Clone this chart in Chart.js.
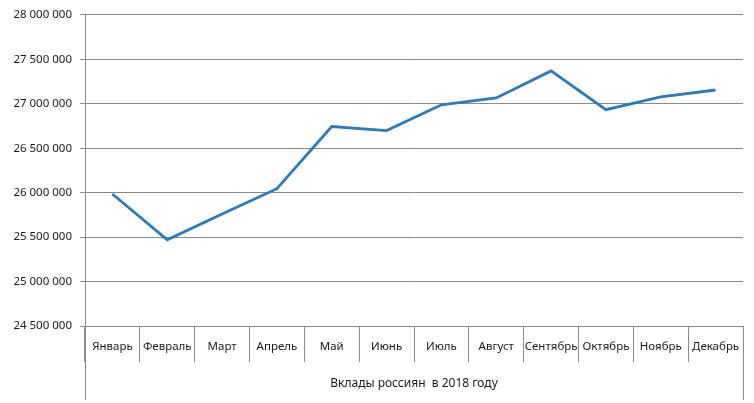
<!DOCTYPE html>
<html>
<head>
<meta charset="utf-8">
<script src="https://cdn.jsdelivr.net/npm/chart.js@4"></script>
<style>
  html, body { margin: 0; padding: 0; background: #fff; }
</style>
</head>
<body>
<canvas id="grafico-vklady" width="754" height="403"></canvas>
<script>
// Данные графика
const months = ['Январь', 'Февраль', 'Март', 'Апрель', 'Май', 'Июнь',
                'Июль', 'Август', 'Сентябрь', 'Октябрь', 'Ноябрь', 'Декабрь'];
const deposits = [25985000, 25470000, 25760000, 26045000, 26744000, 26699000,
                  26988000, 27065000, 27370000, 26934000, 27078000, 27155000];
const axisTitle = 'Вклады россиян  в 2018 году';
const yMin = 24500000;
const yMax = 28000000;
const yStep = 500000;

const gridColor = '#8a8a8a';
const textColor = '#1a1a1a';

// выравнивание как у Chart.js (линия 1px)
const align = p => Math.round(p - 0.5) + 0.5;

// линии по краям нижней области оси
const edgeLines = {
    id: 'edgeLines',
    afterDraw(chart) {
        const { ctx, chartArea } = chart;
        ctx.save();
        ctx.strokeStyle = gridColor;
        ctx.lineWidth = 1;
        ctx.beginPath();
        ctx.moveTo(align(chartArea.left), chartArea.bottom);
        ctx.lineTo(align(chartArea.left), 400);
        ctx.moveTo(align(chartArea.right), chartArea.bottom);
        ctx.lineTo(align(chartArea.right), 400);
        ctx.stroke();
        ctx.restore();
    }
};

new Chart(document.getElementById('grafico-vklady'), {
    type: 'line',
    data: {
        labels: months,
        datasets: [{
            data: deposits,
            borderColor: '#2b7bba',
            borderWidth: 2.8,
            pointRadius: 0,
            tension: 0,
            fill: false
        }]
    },
    options: {
        responsive: false,
        animation: false,
        layout: { padding: { top: 13, right: 11, bottom: 0, left: 0 } },
        plugins: {
            legend: { display: false },
            tooltip: { enabled: false }
        },
        scales: {
            x: {
                offset: true,
                afterFit: s => { s.height = 77; },
                grid: {
                    offset: true,
                    drawOnChartArea: false,
                    tickLength: 36,
                    color: gridColor
                },
                border: { color: gridColor },
                ticks: {
                    color: textColor,
                    padding: -22,
                    maxRotation: 0,
                    autoSkip: false,
                    font: { family: 'Noto Sans', size: 11.5 }
                },
                title: {
                    display: true,
                    text: axisTitle,
                    color: textColor,
                    padding: { top: 0, bottom: 12 },
                    font: { family: 'Noto Sans', size: 12 }
                }
            },
            y: {
                min: yMin,
                max: yMax,
                afterFit: s => { s.width = 85; },
                grid: { color: gridColor, tickLength: 5 },
                border: { color: gridColor },
                ticks: {
                    stepSize: yStep,
                    color: textColor,
                    padding: 8,
                    font: { family: 'Noto Sans', size: 11.5 },
                    callback: v => String(v).replace(/\B(?=(\d{3})+(?!\d))/g, ' ')
                }
            }
        }
    },
    plugins: [edgeLines]
});
</script>
</body>
</html>
